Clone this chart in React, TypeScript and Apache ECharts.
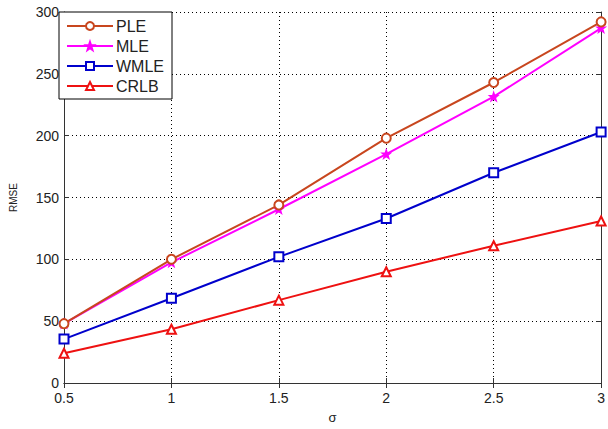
import React, { useEffect, useRef } from "react";
import * as echarts from "echarts";

const sigma = [0.5, 1, 1.5, 2, 2.5, 3];
const ple = [48, 100, 144, 198, 243, 292];
const mle = [48, 97.5, 140.5, 185, 231.5, 287];
const wmle = [35.5, 68.5, 102, 133, 170, 203];
const crlb = [24, 43.5, 67, 90, 111, 131];

const seriesNames = ["PLE", "MLE", "WMLE", "CRLB"];
const seriesColors = ["#c8461e", "#ff00ff", "#0000cc", "#ee1111"];
const seriesSymbols = [
  "emptyCircle",
  "path://M5,0 L6.2,3.6 L10,3.8 L7,6.2 L8.1,10 L5,7.8 L1.9,10 L3,6.2 L0,3.8 L3.8,3.6 Z",
  "emptyRect",
  "emptyTriangle",
];
const seriesData = [ple, mle, wmle, crlb];

export default function App() {
  const ref = useRef<HTMLDivElement>(null);
  useEffect(() => {
    if (!ref.current) return;
    const chart = echarts.init(ref.current, undefined, { renderer: "svg" });
    const font = "Liberation Sans, Arial, sans-serif";
    const axisLineStyle = { color: "#333", width: 1 };
    const grid = { color: "#000", type: [1, 3] as any, width: 1 };
    chart.setOption({
      animation: false,
      backgroundColor: "#fff",
      grid: { left: 59, right: 3, top: 12, bottom: 41, containLabel: false },
      legend: {
        orient: "vertical",
        left: 59,
        top: 12,
        itemWidth: 46,
        itemHeight: 10,
        itemGap: 4,
        padding: [6, 8, 5, 7],
        backgroundColor: "#fff",
        borderColor: "#000",
        borderWidth: 1,
        textStyle: { fontFamily: font, fontSize: 16, color: "#222", padding: [0, 0, 0, -2] },
        data: seriesNames,
      },
      xAxis: [
        {
          type: "value",
          min: 0.5,
          max: 3,
          interval: 0.5,
          name: "σ",
          nameLocation: "middle",
          nameGap: 28,
          nameTextStyle: { fontFamily: font, fontSize: 13, color: "#222" },
          axisLine: { show: true, lineStyle: axisLineStyle },
          axisTick: { show: true, inside: true, length: 5, lineStyle: axisLineStyle },
          axisLabel: {
            fontFamily: font,
            fontSize: 14,
            color: "#222",
            margin: 8,
            formatter: (v: number) => String(v),
          },
          splitLine: { show: true, lineStyle: grid },
        },
        {
          type: "value",
          position: "top",
          min: 0.5,
          max: 3,
          interval: 0.5,
          axisLine: { show: true, lineStyle: axisLineStyle },
          axisTick: { show: true, inside: true, length: 5, lineStyle: axisLineStyle },
          axisLabel: { show: false },
          splitLine: { show: false },
        },
      ],
      yAxis: [
        {
          type: "value",
          min: 0,
          max: 300,
          interval: 50,
          name: "RMSE",
          nameLocation: "middle",
          nameGap: 46,
          nameTextStyle: { fontFamily: font, fontSize: 10, color: "#222" },
          axisLine: { show: true, lineStyle: axisLineStyle },
          axisTick: { show: true, inside: true, length: 5, lineStyle: axisLineStyle },
          axisLabel: { fontFamily: font, fontSize: 14, color: "#222", margin: 5, lineHeight: 12 },
          splitLine: { show: true, lineStyle: grid },
        },
        {
          type: "value",
          position: "right",
          min: 0,
          max: 300,
          interval: 50,
          axisLine: { show: true, lineStyle: axisLineStyle },
          axisTick: { show: true, inside: true, length: 5, lineStyle: axisLineStyle },
          axisLabel: { show: false },
          splitLine: { show: false },
        },
      ],
      series: seriesNames.map((name, i) => ({
        name,
        type: "line",
        xAxisIndex: 0,
        yAxisIndex: 0,
        data: sigma.map((s, j) => [s, seriesData[i][j]]),
        color: seriesColors[i],
        symbol: seriesSymbols[i],
        symbolSize: i === 1 ? 8 : 9,
        showAllSymbol: true,
        lineStyle: { width: 2, color: seriesColors[i] },
        itemStyle: { color: seriesColors[i], borderColor: seriesColors[i], borderWidth: 1.5 },
        z: 10 - i,
      })),
    });
    return () => chart.dispose();
  }, []);
  return <div ref={ref} style={{ width: 608, height: 429, position: "absolute", left: 0, top: 0 }} />;
}
